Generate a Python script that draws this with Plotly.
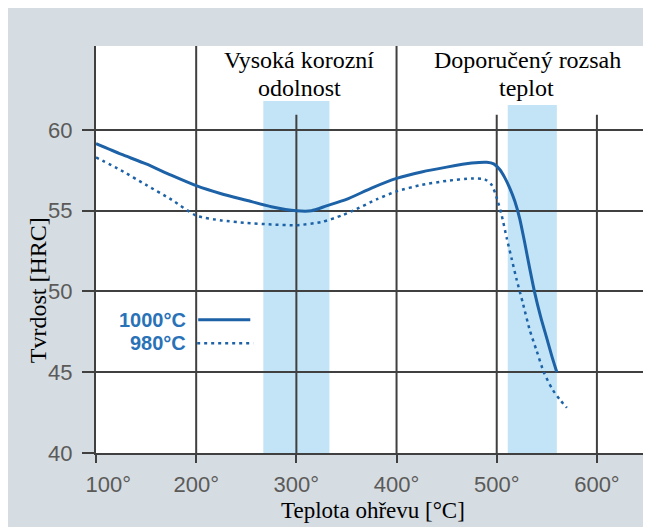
import plotly.graph_objects as go

# hardness vs tempering temperature
temp_1000 = [100, 125, 150, 175, 200, 225, 250, 275, 300, 315, 330, 350, 375, 400, 425, 450,
             475, 490, 497, 503, 508, 513, 518, 523, 528, 533, 538, 544, 550, 555, 560]
hrc_1000 = [59.15, 58.5, 57.9, 57.2, 56.55, 56.05, 55.65, 55.25, 55.0, 55.0, 55.3, 55.7, 56.4, 57.0, 57.4, 57.7,
            57.95, 58.0, 57.9, 57.55, 57.05, 56.4, 55.6, 54.5, 53.0, 51.4, 49.9, 48.4, 47.1, 46.0, 45.0]

temp_980 = [100, 125, 150, 175, 200, 225, 250, 275, 300, 325, 345, 360, 380, 400, 425, 450, 475,
            488, 495, 500, 505, 510, 515, 520, 526, 533, 540, 547, 555, 563, 570]
hrc_980 = [58.3, 57.5, 56.6, 55.7, 54.7, 54.4, 54.25, 54.15, 54.1, 54.3, 54.7, 55.1, 55.7, 56.2, 56.6, 56.85, 57.0,
           56.95, 56.6, 55.8, 54.7, 53.3, 52.0, 50.7, 49.3, 47.6, 46.3, 45.0, 44.0, 43.3, 42.8]

x_ticks = [100, 200, 300, 400, 500, 600]
x_tick_labels = ["\u2007\u2007100°", "200°", "300°", "400°", "500°", "600°"]
y_ticks = [40, 45, 50, 55, 60]

band_corrosion = (267, 333)
band_recommended = (511, 560)

full_vlines = [200, 400]
short_vlines = [300, 500, 600]

LINE = "#1d62a6"
LEGEND_TXT = "#2a72b8"
GRID = "#404040"
BAND = "#c2e4f6"
GRAYBG = "#d5dce2"
TICKTXT = "#5b5a58"
SERIF = "Liberation Serif, Times New Roman, serif"
SANS = "Liberation Sans, Arial, sans-serif"

fig = go.Figure()

fig.add_trace(go.Scatter(x=temp_1000, y=hrc_1000, mode="lines", name="1000°C",
                         line=dict(color=LINE, width=3, shape="spline", smoothing=0.6),
                         showlegend=False))
fig.add_trace(go.Scatter(x=temp_980, y=hrc_980, mode="lines", name="980°C",
                         line=dict(color=LINE, width=2.5, dash="3px,4px", shape="spline", smoothing=0.6),
                         showlegend=False))

# shaded temperature ranges
fig.add_shape(type="rect", x0=band_corrosion[0], x1=band_corrosion[1], y0=40, y1=61.8,
              xref="x", yref="y", fillcolor=BAND, line_width=0, layer="below")
fig.add_shape(type="rect", x0=band_recommended[0], x1=band_recommended[1], y0=40, y1=61.55,
              xref="x", yref="y", fillcolor=BAND, line_width=0, layer="below")

# vertical grid lines
for v in full_vlines:
    fig.add_shape(type="line", x0=v, x1=v, y0=0, y1=1, xref="x", yref="paper",
                  line=dict(color=GRID, width=2), layer="between")
for v in short_vlines:
    fig.add_shape(type="line", x0=v, x1=v, y0=40, y1=60.95, xref="x", yref="y",
                  line=dict(color=GRID, width=2), layer="between")

# legend built by hand (text left of sample line)
fig.add_shape(type="line", x0=202, x1=254, y0=48.25, y1=48.25, xref="x", yref="y",
              line=dict(color=LINE, width=3))
fig.add_shape(type="line", x0=201, x1=257, y0=46.8, y1=46.8, xref="x", yref="y",
              line=dict(color=LINE, width=2.5, dash="3px,4px"))
fig.add_annotation(x=192, y=48.25, xref="x", yref="y", text="<b>1000°C</b>", showarrow=False,
                   xanchor="right", yanchor="middle", font=dict(family=SANS, size=20, color=LEGEND_TXT))
fig.add_annotation(x=192, y=46.8, xref="x", yref="y", text="<b>980°C</b>", showarrow=False,
                   xanchor="right", yanchor="middle", font=dict(family=SANS, size=20, color=LEGEND_TXT))

# range captions
captions = [(303, 64.35, "Vysoká korozní"), (303, 62.62, "odolnost"),
            (531, 64.35, "Doporučený rozsah"), (530, 62.62, "teplot")]
for cx, cy, txt in captions:
    fig.add_annotation(x=cx, y=cy, xref="x", yref="y", text=txt, showarrow=False,
                       yanchor="middle", font=dict(family=SERIF, size=24, color="black"))

# axis titles
fig.add_annotation(x=-58 / 548, y=0.40, xref="paper", yref="paper", text="Tvrdost [HRC]",
                   textangle=-90, showarrow=False, xanchor="center", yanchor="middle",
                   font=dict(family=SERIF, size=24, color="black"))
fig.add_annotation(x=0.505, y=-57 / 407, xref="paper", yref="paper", text="Teplota ohřevu [°C]",
                   showarrow=False, xanchor="center", yanchor="middle",
                   font=dict(family=SERIF, size=23, color="black"))

fig.update_xaxes(range=[100, 647], tickvals=x_ticks, ticktext=x_tick_labels, showgrid=False,
                 showline=True, linecolor=GRID, linewidth=2, ticks="outside", ticklen=8,
                 tickwidth=2, tickcolor=GRID, ticklabelstandoff=3, zeroline=False,
                 tickfont=dict(family=SANS, size=22, color=TICKTXT))
fig.update_yaxes(range=[40, 65.2], tickvals=y_ticks, showgrid=True, gridcolor=GRID, gridwidth=2,
                 showline=True, linecolor=GRID, linewidth=2, ticks="outside", ticklen=12,
                 tickwidth=2, tickcolor=GRID, ticklabelstandoff=5, zeroline=False,
                 tickfont=dict(family=SANS, size=22, color=TICKTXT))

fig.update_layout(
    width=643, height=519,
    margin=dict(l=88, r=7, t=38, b=74),
    paper_bgcolor=GRAYBG,
    plot_bgcolor="white",
    showlegend=False,
)

fig.write_html("out.html")
